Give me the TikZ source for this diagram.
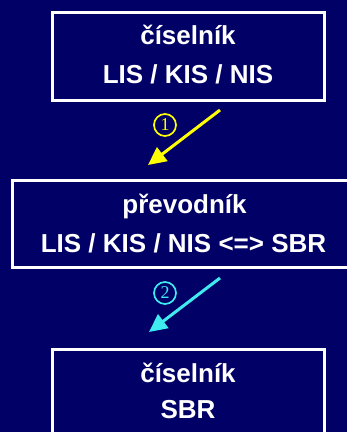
\documentclass[tikz,border=0pt]{standalone}
\usepackage{fontspec}
\setmainfont{Liberation Sans}
\newfontfamily\digitfont{Liberation Serif}
\usetikzlibrary{arrows.meta}
\definecolor{navy}{RGB}{0,0,102}
\definecolor{stepyellow}{RGB}{255,255,0}
\definecolor{stepcyan}{RGB}{64,235,240}
\tikzset{
  framebox/.style={draw=white, line width=3pt, inner sep=0pt},
  lbl/.style={text=white, inner sep=0pt, anchor=base,
    font=\fontsize{26}{30}\selectfont\bfseries},
  flow/.style={line width=3pt, -{Triangle[length=18pt,width=17pt]}},
  stepmark/.style={circle, draw, line width=1.7pt, minimum size=22pt,
    inner sep=0pt, font=\digitfont\fontsize{18}{18}\selectfont},
}
\begin{document}
\begin{tikzpicture}[x=1pt,y=-1pt]
  % page background and frame
  \useasboundingbox (0,0) rectangle (347,432);
  \fill[navy] (0,0) rectangle (347,432);
  \clip (0,0) rectangle (347,432);

  % boxes
  \node[framebox, minimum width=272.5pt, minimum height=87.7pt] (box1) at (188.3,56.3) {};
  \node[framebox, minimum width=343pt, minimum height=87pt] (box2) at (184,224.3) {};
  \node[framebox, minimum width=271.5pt, minimum height=88pt] (box3) at (188.3,393.8) {};

  % box texts
  \node[lbl] (t1a) at (188,44.3) {číselník};
  \node[lbl] (t1b) at (188,83.3) {LIS / KIS / NIS};
  \node[lbl] (t2a) at (184.5,213.3) {převodník};
  \node[lbl] (t2b) at (183.5,252) {LIS / KIS / NIS <=> SBR};
  \node[lbl] (t3a) at (188,382) {číselník};
  \node[lbl] (t3b) at (188,418.5) {SBR};

  % step arrows
  \coordinate (a1s) at (220,110);
  \coordinate (a1e) at (148,165);
  \coordinate (a2s) at (220,278);
  \coordinate (a2e) at (149,332);
  \draw[flow, stepyellow] (a1s) -- (a1e);
  \draw[flow, stepcyan] (a2s) -- (a2e);

  % step numbers
  \node[stepmark, draw=stepyellow, text=stepyellow] (n1) at (165,125) {1};
  \node[stepmark, draw=stepcyan, text=stepcyan] (n2) at (165,293) {2};
\end{tikzpicture}
\end{document}
